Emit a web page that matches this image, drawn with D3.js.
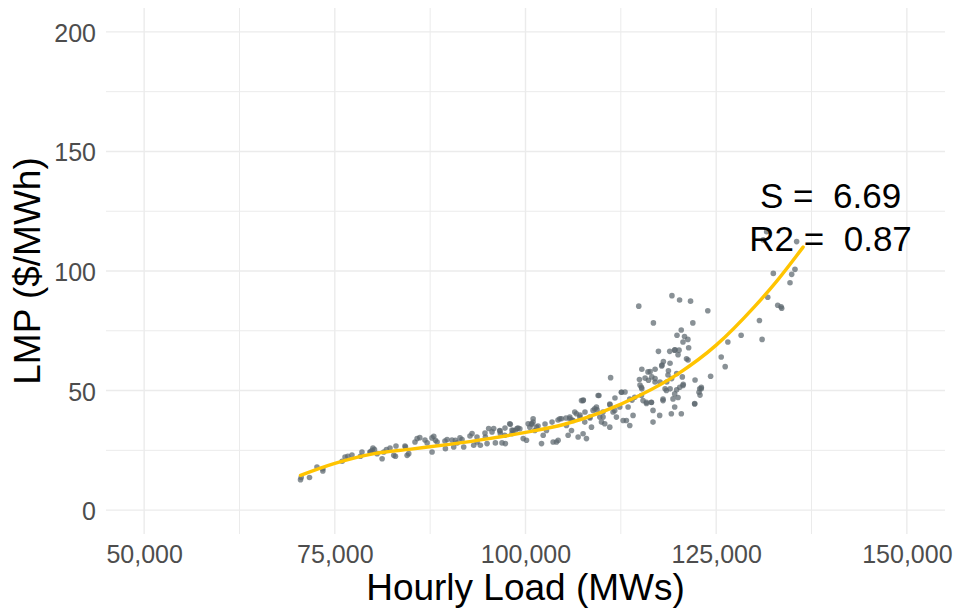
<!DOCTYPE html>
<html>
<head>
<meta charset="utf-8">
<script src="https://cdn.jsdelivr.net/npm/d3@7"></script>
<style>
  html, body { margin: 0; padding: 0; background: #fff; }
  svg { display: block; font-family: "Liberation Sans", Arial, sans-serif; }
</style>
</head>
<body>
<div id="chart"></div>
<script>
// axis ticks
const xTicks = [50000, 75000, 100000, 125000, 150000];
const xMinor = [62500, 87500, 112500, 137500];
const yTicks = [0, 50, 100, 150, 200];
const yMinor = [25, 75, 125, 175];

const xTitle = 'Hourly Load (MWs)';
const yTitle = 'LMP ($/MWh)';
const statLines = ['S =  6.69', 'R2 =  0.87'];
const statAt = [140000, 122];

// hourly observations: load (MW), lmp ($/MWh)
const load = [
  70500, 70590, 71680, 73430, 73430, 75960, 76700, 78360, 79670, 79890,
  80200, 80550, 81200, 81420, 81770, 82730, 82950, 84260, 84480, 84690,
  85790, 86140, 87100, 87750, 87970, 88190, 88410, 89500, 89720, 90590,
  90810, 91030, 91680, 91900, 92990, 93210, 93650, 94080, 94740, 94960,
  95170, 95830, 96050, 96700, 96920, 97360, 98010, 98230, 98670, 98890,
  96620, 97280, 97930, 98370, 99260, 99700, 100130, 100790, 101000, 101220,
  101440, 102100, 102320, 103620, 104280, 104500, 105370, 105590, 105810, 106030,
  106460, 106680, 106900, 107120, 107550, 107770, 107990, 108430, 108860, 109300,
  109520, 109740, 109960, 110390, 111050, 111480, 111920, 112360, 112580, 112800,
  113230, 113450, 113670, 114100, 114320, 115200, 115410, 115850, 116500, 116720,
  116720, 117590, 118030, 118470, 119120, 119340, 119560, 120220, 120430, 120650,
  122180, 122840, 123050,
  100350, 100570, 101000, 102750, 104060, 104720, 105810, 106240, 107340, 107550,
  108650, 109080, 110170, 111050, 111700,
  114850, 119200, 120200, 121640, 123900, 116770, 121940, 120420, 119860, 120850,
  121290, 117430, 118910, 119560, 120130, 121390, 120000, 121110, 118080, 118950,
  117860, 116990, 118740, 115250, 116340, 116560, 116990, 114940, 111160, 116120,
  117640, 118520, 119160, 119820, 120560, 120680, 118300, 118960, 119820, 115250,
  112590, 113670, 115200, 115860, 116510, 118030, 119560, 120000, 123050, 122750,
  122180, 124270, 125660, 126180, 126530, 128270, 130670, 131020, 131760, 133070,
  133510, 131615, 131170, 135550, 135330, 134900, 134680, 133590, 132490, 109630,
  107580,
  72660, 76340, 77250, 78560, 79610, 80000, 82240, 83020, 84200, 85510,
  86820, 87740, 89440, 90360, 91410, 92720, 93640, 94690, 95610, 96660,
  97310, 98230, 99020, 100850, 101640, 102560, 103480, 104270, 105310, 106100,
  107150, 107800, 108460, 109380, 110160, 111080, 111730, 113050, 113970, 115010,
  115680, 116060, 116980, 117900, 118680, 119600, 120650, 121310, 122230, 122880
];
const lmp = [
  12.7, 13.6, 13.6, 16.4, 17.3, 20.4, 22.5, 22.5, 24.3, 25.0,
  25.3, 23.6, 21.5, 24.3, 25.3, 22.9, 22.5, 26.4, 22.9, 23.6,
  29.9, 30.3, 28.1, 24.3, 30.9, 29.2, 28.5, 25.7, 29.5, 26.4,
  29.2, 28.1, 29.5, 26.4, 32.0, 27.1, 28.5, 27.1, 30.6, 27.8,
  34.1, 34.1, 28.1, 32.0, 28.1, 27.8, 35.9, 32.0, 33.4, 34.1,
  33.3, 31.3, 36.1, 33.3, 34.0, 29.9, 29.2, 36.1, 38.2, 33.3,
  34.7, 27.8, 31.3, 28.5, 29.2, 38.2, 35.4, 31.3, 38.9, 33.3,
  41.0, 40.3, 30.6, 38.9, 45.8, 36.8, 29.9, 38.9, 41.7, 43.1,
  47.9, 38.9, 36.8, 36.1, 44.4, 41.0, 38.9, 43.1, 49.3, 37.5,
  37.5, 43.1, 35.4, 39.6, 47.2, 51.4, 45.8, 45.1, 45.1, 41.7,
  36.8, 39.6, 45.8, 50.0, 40.3, 46.5, 43.1, 51.4, 40.3, 52.1,
  44.4, 50.7, 51.4,
  36.1, 34.7, 36.8, 33.3, 28.5, 38.2, 38.2, 37.5, 45.8, 31.9,
  34.7, 42.4, 38.9, 34.7, 41.7,
  85.3, 89.7, 87.9, 87.4, 83.4, 78.3, 78.3, 75.3, 73.1, 72.6,
  71.4, 66.4, 66.4, 66.9, 66.9, 67.9, 65.0, 63.3, 62.1, 61.4,
  60.3, 58.9, 58.3, 58.9, 57.9, 55.7, 55.0, 54.6, 55.4, 54.3,
  53.6, 53.6, 55.0, 57.1, 55.7, 52.6, 50.7, 50.7, 50.3, 50.7,
  49.3, 46.4, 47.9, 44.6, 45.0, 46.4, 48.6, 47.1, 50.7, 49.3,
  44.6, 56.0, 64.0, 60.0, 70.3, 73.1, 79.3, 71.4, 89.0, 85.7,
  85.0, 116.4, 113.0, 112.3, 100.7, 98.6, 95.1, 84.4, 99.0, 47.9,
  46.0,
  18.0, 22.2, 23.0, 24.3, 24.3, 26.0, 26.0, 26.8, 26.8, 28.5,
  29.3, 30.2, 28.9, 29.3, 30.2, 31.0, 30.6, 32.2, 32.7, 33.1,
  34.3, 33.5, 34.3, 36.0, 35.2, 36.0, 36.8, 37.7, 38.5, 37.7,
  39.8, 41.0, 38.5, 41.9, 41.0, 44.0, 46.9, 49.4, 46.0, 52.3,
  55.2, 57.8, 53.6, 60.7, 56.5, 67.0, 70.3, 62.8, 54.4, 48.1
];

// fitted curve
const fitLoad = [70500, 75000, 80000, 85000, 90000, 95000, 100000, 105000, 110000, 115000, 120000, 125000, 130000, 133000, 136400];
const fitLmp  = [14.5, 19.5, 23.5, 25.5, 27.5, 29.8, 32.5, 35.8, 41.0, 48.0, 57.0, 69.0, 85.0, 96.0, 110.0];

const W = 956, H = 610;
const svg = d3.select('#chart').append('svg')
  .attr('width', W)
  .attr('height', H);

const x = d3.scaleLinear().domain([45000, 155000]).range([106, 945]);
const y = d3.scaleLinear().domain([-10, 210]).range([534, 8]);

const grid = svg.append('g').attr('class', 'grid');
grid.selectAll('line.vminor').data(xMinor).enter().append('line')
  .attr('x1', d => x(d)).attr('x2', d => x(d))
  .attr('y1', y.range()[0]).attr('y2', y.range()[1])
  .attr('stroke', '#ebebeb').attr('stroke-width', 1);
grid.selectAll('line.hminor').data(yMinor).enter().append('line')
  .attr('y1', d => y(d)).attr('y2', d => y(d))
  .attr('x1', x.range()[0]).attr('x2', x.range()[1])
  .attr('stroke', '#ebebeb').attr('stroke-width', 1);
grid.selectAll('line.vmajor').data(xTicks).enter().append('line')
  .attr('x1', d => x(d)).attr('x2', d => x(d))
  .attr('y1', y.range()[0]).attr('y2', y.range()[1])
  .attr('stroke', '#ebebeb').attr('stroke-width', 1.4);
grid.selectAll('line.hmajor').data(yTicks).enter().append('line')
  .attr('y1', d => y(d)).attr('y2', d => y(d))
  .attr('x1', x.range()[0]).attr('x2', x.range()[1])
  .attr('stroke', '#ebebeb').attr('stroke-width', 1.4);

// tick labels via axes, with the domain and tick marks hidden
const xAxis = svg.append('g')
  .attr('transform', `translate(0,${y.range()[0]})`)
  .call(d3.axisBottom(x).tickValues(xTicks).tickFormat(d3.format(',')).tickSize(0).tickPadding(29));
const yAxis = svg.append('g')
  .attr('transform', `translate(${x.range()[0]},0)`)
  .call(d3.axisLeft(y).tickValues(yTicks).tickSize(0).tickPadding(10));
[xAxis, yAxis].forEach(g => {
  g.select('.domain').remove();
  g.selectAll('text')
    .attr('font-family', '"Liberation Sans", Arial, sans-serif')
    .attr('font-size', 25)
    .attr('fill', '#4d4d4d');
});
xAxis.selectAll('text').attr('dy', 0);
yAxis.selectAll('text').attr('dy', '0.38em');

// points
const pts = load.map((v, i) => [v, lmp[i]]);
svg.append('g').selectAll('circle').data(pts).enter().append('circle')
  .attr('cx', d => x(d[0]))
  .attr('cy', d => y(d[1]))
  .attr('r', 2.8)
  .attr('fill', '#5b666e')
  .attr('fill-opacity', 0.72);

// smooth fit
const fit = fitLoad.map((v, i) => [v, fitLmp[i]]);
svg.append('path')
  .datum(fit)
  .attr('fill', 'none')
  .attr('stroke', '#ffc400')
  .attr('stroke-width', 3.4)
  .attr('stroke-linecap', 'round')
  .attr('d', d3.line().x(d => x(d[0])).y(d => y(d[1])).curve(d3.curveMonotoneX));

// fit statistics
const stat = svg.append('text')
  .attr('x', x(statAt[0]))
  .attr('y', y(statAt[1]))
  .attr('text-anchor', 'middle')
  .attr('font-size', 35)
  .attr('fill', '#000')
  .style('white-space', 'pre');
stat.selectAll('tspan').data(statLines).enter().append('tspan')
  .attr('x', x(statAt[0]))
  .attr('dy', (d, i) => i === 0 ? -10.5 : 43.5)
  .text(d => d);

// axis titles
svg.append('text')
  .attr('x', (x.range()[0] + x.range()[1]) / 2)
  .attr('y', 600)
  .attr('text-anchor', 'middle')
  .attr('font-size', 37)
  .attr('fill', '#000')
  .text(xTitle);

svg.append('text')
  .attr('transform', `translate(40,${(y.range()[0] + y.range()[1]) / 2}) rotate(-90)`)
  .attr('text-anchor', 'middle')
  .attr('font-size', 37)
  .attr('fill', '#000')
  .text(yTitle);
</script>
</body>
</html>
